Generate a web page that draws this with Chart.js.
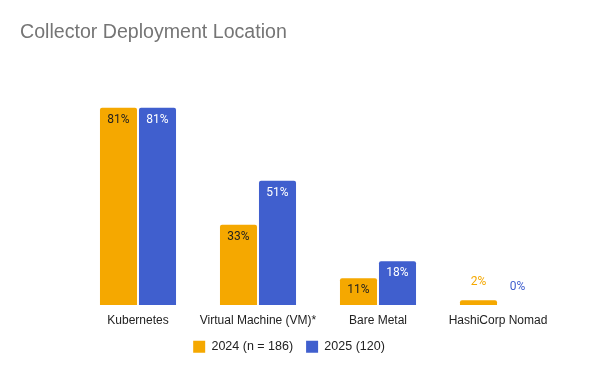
<!DOCTYPE html>
<html lang="en">
<head>
  <meta charset="UTF-8">
  <title>Collector Deployment Location</title>
  <style>
    body { margin: 0; background: #fff; }
    .chart-box { position: relative; width: 600px; height: 371px; }
  </style>
</head>
<body>
  <div class="chart-box">
    <canvas id="deployChart"></canvas>
  </div>

  <script src="https://cdn.jsdelivr.net/npm/chart.js@4.4.1/dist/chart.umd.min.js"></script>
  <script>
    const categories = ['Kubernetes', 'Virtual Machine (VM)*', 'Bare Metal', 'HashiCorp Nomad'];
    const values2024 = [81, 33, 11, 2];
    const values2025 = [81, 51, 18, 0];
    const seriesNames = ['2024 (n = 186)', '2025 (120)'];

    const orange = '#f5a800';
    const blue = '#405fce';
    const sans = "'Liberation Sans', Arial, sans-serif";

    // draws the % labels: inside the bar near its top, or above it when the bar is short
    const barLabels = {
      id: 'barLabels',
      afterDatasetsDraw(chart) {
        const ctx = chart.ctx;
        ctx.save();
        ctx.font = '12px Roboto';
        ctx.textAlign = 'center';
        ctx.textBaseline = 'middle';
        chart.data.datasets.forEach((ds, i) => {
          const meta = chart.getDatasetMeta(i);
          meta.data.forEach((bar, j) => {
            const v = ds.data[j];
            const h = bar.base - bar.y;
            let y, color;
            if (h > 22) {
              y = bar.y + 12;
              color = ds.insideLabelColor;
            } else {
              y = bar.y - 18;
              color = ds.backgroundColor;
            }
            ctx.fillStyle = color;
            ctx.fillText(v + '%', bar.x, y);
          });
        });
        ctx.restore();
      }
    };

    new Chart(document.getElementById('deployChart'), {
      type: 'bar',
      data: {
        labels: categories,
        datasets: [
          {
            label: seriesNames[0],
            data: values2024,
            backgroundColor: orange,
            insideLabelColor: '#1f1f1f',
            borderRadius: 2,
            borderSkipped: 'bottom',
            barPercentage: 0.95,
            categoryPercentage: 0.65
          },
          {
            label: seriesNames[1],
            data: values2025,
            backgroundColor: blue,
            insideLabelColor: '#ffffff',
            borderRadius: 2,
            borderSkipped: 'bottom',
            barPercentage: 0.95,
            categoryPercentage: 0.65
          }
        ]
      },
      options: {
        responsive: true,
        maintainAspectRatio: false,
        animation: false,
        layout: {
          padding: { left: 20, right: 42, top: 0, bottom: 8 }
        },
        plugins: {
          title: {
            display: true,
            text: 'Collector Deployment Location',
            align: 'start',
            color: '#757575',
            font: { family: sans, size: 19.6, weight: 'normal' },
            padding: { top: 21, bottom: 17 }
          },
          legend: {
            position: 'bottom',
            labels: {
              boxWidth: 12,
              boxHeight: 12,
              color: '#222',
              font: { family: sans, size: 12.5 },
              padding: 13
            }
          },
          tooltip: { enabled: false }
        },
        scales: {
          x: {
            grid: { display: false },
            border: { display: false },
            ticks: {
              color: '#222',
              font: { family: sans, size: 12 },
              padding: 0,
              autoSkip: false,
              maxRotation: 0
            }
          },
          y: {
            min: 0,
            max: 100,
            grid: { display: false },
            border: { display: false },
            ticks: { display: false },
            afterFit(scale) { scale.width = 58; }
          }
        }
      },
      plugins: [barLabels]
    });
  </script>
</body>
</html>
